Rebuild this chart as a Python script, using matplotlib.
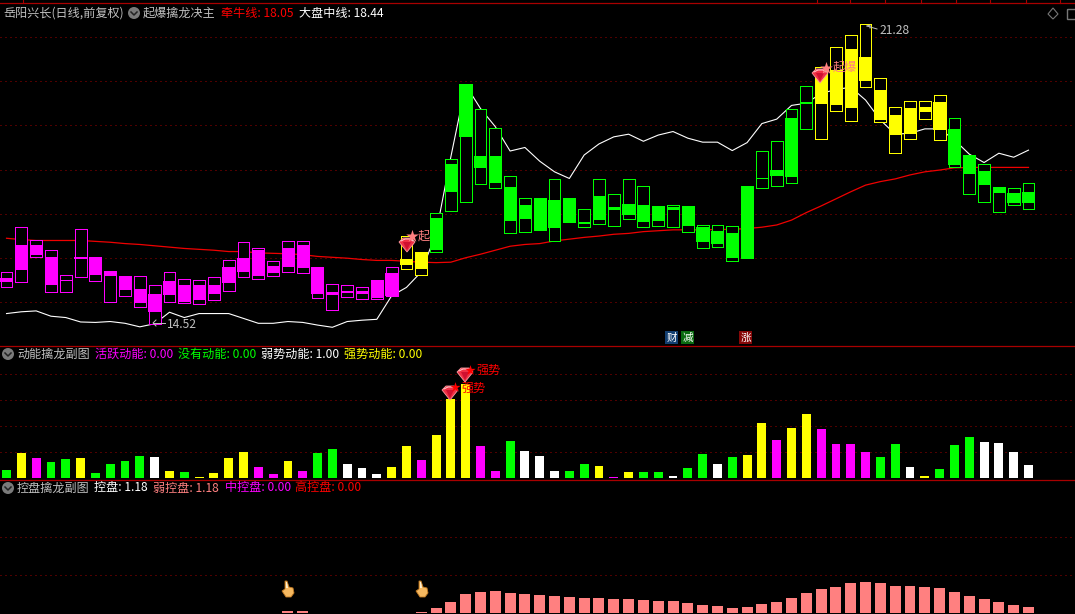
import numpy as np
import matplotlib
matplotlib.use('Agg')
import matplotlib.pyplot as plt
from matplotlib.patches import Polygon, Circle, Rectangle

plt.rcParams['font.family'] = ['Noto Sans CJK SC', 'DejaVu Sans']
plt.rcParams['axes.unicode_minus'] = False

# K线数据（从图上读的）
high = [15.68, 16.70, 16.42, 16.18, 15.61, 16.67, 16.03, 15.71, 15.60, 15.59,
        15.39, 15.68, 15.52, 15.50, 15.57, 15.97, 16.36, 16.22, 15.93, 16.38,
        16.38, 15.80, 15.41, 15.39, 15.34, 15.51, 15.79, 16.49, 16.15, 17.01,
        18.23, 19.93, 19.38, 18.95, 17.85, 17.35, 17.36, 17.78, 17.37, 17.10,
        17.78, 17.44, 17.78, 17.64, 17.17, 17.19, 17.18, 16.74, 16.74, 16.72,
        17.63, 18.43, 18.64, 19.38, 19.88, 20.31, 20.76, 21.05, 21.28, 20.06,
        19.41, 19.54, 19.56, 19.68, 19.16, 18.33, 18.12, 17.61, 17.58, 17.69]
low = [15.34, 15.47, 16.03, 15.24, 15.24, 15.58, 15.49, 15.02, 15.15, 14.90,
       14.52, 15.02, 14.99, 14.97, 15.06, 15.27, 15.58, 15.52, 15.60, 15.69,
       15.67, 15.11, 14.84, 15.13, 15.07, 15.07, 15.15, 15.76, 15.63, 16.15,
       17.07, 17.28, 17.68, 17.59, 16.58, 16.60, 16.64, 16.39, 16.82, 16.71,
       16.78, 16.73, 16.89, 16.71, 16.73, 16.71, 16.60, 16.24, 16.26, 15.94,
       16.00, 17.59, 17.64, 17.70, 18.92, 18.70, 19.33, 19.10, 19.87, 19.08,
       18.38, 18.70, 19.15, 18.68, 18.06, 17.46, 17.28, 17.05, 17.21, 17.10]
body_top = [15.56, 16.30, 16.30, 16.03, 15.51, 16.03, 16.03, 15.71, 15.60, 15.30,
            15.19, 15.48, 15.39, 15.39, 15.39, 15.80, 16.00, 16.18, 15.82, 16.23,
            16.29, 15.80, 15.23, 15.26, 15.26, 15.51, 15.66, 15.98, 16.15, 16.90,
            18.13, 19.93, 18.31, 18.31, 17.60, 17.20, 17.36, 17.31, 17.34, 16.82,
            17.40, 17.15, 17.22, 17.20, 17.15, 17.15, 17.18, 16.70, 16.61, 16.57,
            17.63, 17.81, 17.99, 19.17, 19.53, 20.14, 20.25, 20.72, 20.54, 19.79,
            19.23, 19.39, 19.41, 19.53, 18.92, 18.33, 17.96, 17.61, 17.47, 17.49]
body_bottom = [15.47, 15.73, 16.07, 15.39, 15.48, 15.99, 15.62, 15.60, 15.28, 14.99,
               14.78, 15.17, 15.02, 15.06, 15.20, 15.44, 15.69, 15.60, 15.66, 15.80,
               15.78, 15.19, 15.17, 15.21, 15.20, 15.10, 15.15, 15.85, 15.76, 16.18,
               17.49, 18.74, 18.04, 17.70, 16.84, 16.88, 16.64, 16.68, 16.82, 16.77,
               16.86, 17.09, 16.97, 16.82, 16.84, 17.09, 16.73, 16.36, 16.32, 16.00,
               16.00, 17.79, 17.86, 17.83, 19.49, 19.48, 19.46, 19.39, 20.00, 19.12,
               18.78, 18.80, 19.30, 18.89, 18.10, 17.91, 17.65, 17.47, 17.25, 17.25]
# m=品红 y=黄 g=绿
candle_state = 'm' * 27 + 'y' * 2 + 'g' * 26 + 'y' * 9 + 'g' * 6

# 大盘中线
white_line = [14.75, 14.79, 14.81, 14.69, 14.66, 14.56, 14.55, 14.57, 14.53, 14.45,
              14.52, 14.78, 14.66, 14.75, 14.75, 14.75, 14.64, 14.53, 14.53, 14.57,
              14.55, 14.49, 14.44, 14.57, 14.60, 14.62, 15.15, 15.34, 15.69, 16.56,
              18.29, 19.91, 19.38, 18.97, 18.42, 18.50, 18.19, 17.95, 17.80, 18.33,
              18.58, 18.74, 18.80, 18.64, 18.78, 18.86, 18.71, 18.62, 18.62, 18.43,
              18.61, 19.04, 19.14, 19.45, 19.50, 19.72, 19.81, 19.86, 19.57, 19.12,
              18.80, 18.82, 18.92, 18.92, 18.67, 18.35, 18.16, 18.37, 18.28, 18.44]
# 牵牛线
red_line = [16.45, 16.42, 16.40, 16.40, 16.40, 16.40, 16.38, 16.36, 16.33, 16.31,
            16.28, 16.25, 16.22, 16.20, 16.18, 16.15, 16.15, 16.12, 16.11, 16.10,
            16.08, 16.04, 16.02, 16.00, 15.97, 15.95, 15.95, 15.93, 15.91, 15.90,
            15.91, 16.01, 16.09, 16.18, 16.27, 16.31, 16.33, 16.39, 16.43, 16.47,
            16.50, 16.54, 16.56, 16.60, 16.62, 16.64, 16.64, 16.64, 16.65, 16.65,
            16.67, 16.70, 16.75, 16.86, 17.03, 17.18, 17.34, 17.50, 17.65, 17.73,
            17.79, 17.88, 17.95, 17.99, 18.04, 18.05, 18.05, 18.05, 18.05, 18.05]

# 动能副图
power = [0.62, 1.93, 1.54, 1.23, 1.47, 1.54, 0.39, 1.08, 1.31, 1.70,
         1.62, 0.54, 0.46, 0.08, 0.39, 1.54, 2.01, 0.85, 0.31, 1.31,
         0.54, 1.93, 2.24, 1.08, 0.77, 0.31, 0.85, 2.47, 1.39, 3.32,
         6.09, 7.25, 2.47, 0.54, 2.85, 2.08, 1.70, 0.54, 0.54, 1.08,
         0.93, 0.08, 0.46, 0.46, 0.46, 0.15, 0.77, 1.85, 1.08, 1.62,
         1.77, 4.24, 2.93, 3.86, 4.94, 3.78, 2.62, 2.62, 2.01, 1.62,
         2.62, 0.85, 0.15, 0.69, 2.54, 3.16, 2.78, 2.70, 2.01, 1.00]
power_state = list('gymggygggg' 'wygyyyymmy' 'mggwwwyymy' 'yymmgwwwgg'
                   'ymygg' 'wggwg' 'yymyy' 'mmmmg' 'gwygg' 'gwwww')

# 控盘副图
control = [0, 0, 0, 0, 0, 0, 0, 0, 0, 0,
           0, 0, 0, 0, 0, 0, 0, 0, 0, 0.39,
           0.39, 0, 0, 0, 0, 0, 0, 0, 0.20, 0.98,
           2.16, 3.74, 4.13, 4.33, 3.93, 3.74, 3.54, 3.34, 3.15, 2.95,
           2.95, 2.75, 2.75, 2.56, 2.36, 2.36, 1.97, 1.57, 1.38, 0.98,
           1.18, 1.77, 2.16, 2.95, 3.93, 4.72, 5.11, 5.90, 6.10, 5.90,
           5.31, 5.31, 5.11, 4.92, 4.13, 3.34, 2.75, 2.16, 1.57, 1.18]

price_grid = [15, 16, 17, 18, 19, 20, 21]
power_grid = [2, 4, 6, 8]
control_grid = [7.5, 15]

W, H = 1075, 614
colors = {'m': '#FF00FF', 'y': '#FFFF00', 'g': '#00FF00', 'w': '#FFFFFF'}
grid_color = '#A00000'
line_color = '#A80000'
salmon = '#FF8080'
gray = '#C0C0C0'

fig = plt.figure(figsize=(W / 100, H / 100), dpi=100, facecolor='black')


def make_axes(top, bottom, ylim):
    ax = fig.add_axes([0, 1 - bottom / H, 1, (bottom - top) / H], facecolor='black')
    ax.set_xlim(-0.4416, 72.14)
    ax.set_ylim(*ylim)
    ax.axis('off')
    return ax


def dotted_grid(ax, values):
    for v in values:
        ax.axhline(v, color=grid_color, lw=0.72, ls=(0, (1, 4)), zorder=1)


x = np.arange(len(high))

# 主图
ax1 = make_axes(0, 345, (14.04, 21.83))
dotted_grid(ax1, price_grid)
ax1.plot(x, red_line, color='#F00000', lw=0.9, zorder=2)
ax1.plot(x, white_line, color='white', lw=0.8, zorder=2)
c_list = [colors[s] for s in candle_state]
ax1.bar(x, np.array(high) - np.array(low), bottom=low, width=0.8, facecolor='black',
        edgecolor=c_list, linewidth=0.72, antialiased=False, zorder=3)
ax1.bar(x, np.array(body_top) - np.array(body_bottom), bottom=body_bottom, width=0.84,
        color=c_list, linewidth=0, zorder=4)

# 动能副图
ax2 = make_axes(346, 479, (-0.08, 10.18))
dotted_grid(ax2, power_grid)
ax2.bar(x, power, width=0.6, color=[colors[s] for s in power_state], linewidth=0, zorder=3)

# 控盘副图
ax3 = make_axes(480, 614, (-0.2, 26.2))
dotted_grid(ax3, control_grid)
ax3.bar(x, control, width=0.74, color=salmon, linewidth=0, zorder=3)

# 上层，用像素坐标放文字和图标
top = fig.add_axes([0, 0, 1, 1], facecolor='none', zorder=10)
top.set_xlim(0, W)
top.set_ylim(H, 0)
top.axis('off')

top.plot([0, W], [3.3, 3.3], color=line_color, lw=0.9)
top.plot([0, W], [345.5, 345.5], color=line_color, lw=0.9)
top.plot([0, W], [479.5, 479.5], color=line_color, lw=0.9)
for tx in [23, 817, 850, 885, 921, 956, 990, 1026, 1060]:
    top.plot([tx, tx], [0, 3], color=line_color, lw=0.8)


def label(px, py, s, color, size=8.7):
    top.text(px, py, s, color=color, fontsize=size, va='center', ha='left')


def chevron(px, py):
    top.add_patch(Circle((px, py), 6, color='#7A7A7A', lw=0))
    top.plot([px - 3, px, px + 3], [py - 1, py + 2, py - 1], color='#222222', lw=1.1)


def gem(px, py):
    top.add_patch(Polygon([(px - 8, py - 3), (px - 4, py - 7), (px + 4, py - 7), (px + 8, py - 3), (px, py + 7)],
                          closed=True, facecolor='#F03045', edgecolor='#FF9AA0', lw=0.6))
    top.add_patch(Polygon([(px - 4, py - 3), (px + 4, py - 3), (px, py + 5)], closed=True, facecolor='#D01030', lw=0))
    top.plot([px - 6, px - 2, px + 3, px + 6], [py - 4, py - 6, py - 6, py - 4], color='#FFD0D0', lw=0.7)


def star(px, py, color, size=90):
    top.scatter([px], [py], marker='*', s=size, color=color, linewidths=0, zorder=5)


def hand(px, py):
    top.add_patch(Polygon([(px - 3, py - 9), (px - 1, py - 9), (px + 1, py - 3), (px + 5, py - 2), (px + 6, py + 3),
                           (px + 3, py + 7), (px - 2, py + 7), (px - 6, py + 1), (px - 3, py - 1)],
                          closed=True, facecolor='#F5B860', edgecolor='#C07820', lw=0.6))
    top.add_patch(Polygon([(px - 2, py - 8), (px - 1, py - 8), (px, py - 2), (px - 2, py - 2)], closed=True,
                          facecolor='#FFF0D0', lw=0))


# 主图表头
label(3, 13, '岳阳兴长(日线,前复权)', gray)
chevron(134, 13)
label(143, 13, '起爆擒龙决主', gray)
label(221, 13, '牵牛线: 18.05', '#FF0000')
label(299, 13, '大盘中线: 18.44', 'white')

# 高低点标注
top.plot([153, 165], [323, 323], color=gray, lw=0.7)
top.plot([156, 153, 156], [320, 323, 326], color=gray, lw=0.7)
label(167, 325, '14.52', gray)
top.plot([867, 877], [26, 29], color=gray, lw=0.7)
top.plot([867, 870, 870], [26, 25, 28], color=gray, lw=0.7)
label(879, 30, '21.28', gray)

# 信号
gem(407, 245)
gem(820, 76)
star(412, 236, salmon)
label(418, 236, '起', salmon)
star(826, 68, salmon)
label(833, 67, '起爆', salmon)

# 财 减 涨
for bx, bc, s in [(665, '#123E70', '财'), (681, '#0A6A10', '减'), (739, '#860808', '涨')]:
    top.add_patch(Rectangle((bx, 331), 13, 13, facecolor=bc, lw=0))
    top.text(bx + 6.5, 337.5, s, color='white', fontsize=7.6, ha='center', va='center')

# 右上角小图标
top.add_patch(Polygon([(1053, 8), (1058, 14), (1053, 19), (1048, 14)], closed=True, fill=False, edgecolor='#777777', lw=0.8))
top.add_patch(Rectangle((1067, 9), 12, 10, fill=False, edgecolor='#777777', lw=1.0))

# 动能表头
chevron(8, 354)
label(17, 354, '动能擒龙副图', gray)
label(95, 354, '活跃动能: 0.00', '#FF00FF')
label(178, 354, '没有动能: 0.00', '#00FF00')
label(261, 354, '弱势动能: 1.00', 'white')
label(344, 354, '强势动能: 0.00', '#FFFF00')

gem(450, 393)
gem(465, 375)
star(455, 387, '#FF0000', 60)
label(461, 388, '强势', '#FF0000')
star(470, 370, '#FF0000', 60)
label(476, 370, '强势', '#FF0000')

# 控盘表头
chevron(8, 488)
label(17, 488, '控盘擒龙副图', gray)
label(94, 488, '控盘: 1.18', 'white')
label(153, 488, '弱控盘: 1.18', salmon)
label(225, 488, '中控盘: 0.00', '#FF00FF')
label(295, 488, '高控盘: 0.00', '#FF0000')

hand(288, 590)
hand(422, 590)

top.set_xlim(0, W)
top.set_ylim(H, 0)

fig.savefig('out.png', dpi=100, facecolor='black')
